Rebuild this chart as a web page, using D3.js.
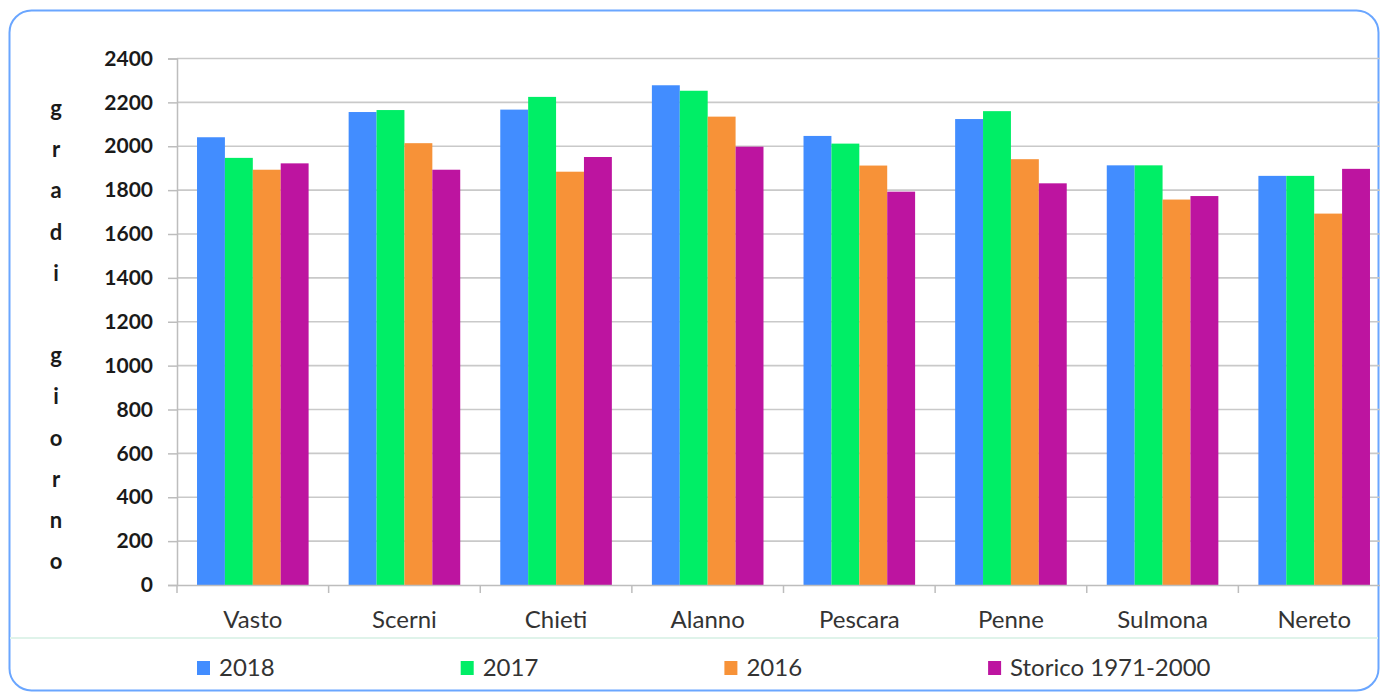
<!DOCTYPE html>
<html><head><meta charset="utf-8">
<script src="https://cdn.jsdelivr.net/npm/d3@7"></script>
<style>body{margin:0;background:#fff;}svg{display:block;}</style>
</head><body>
<svg id="c" width="1380" height="693"></svg>
<script>
const categories = ["Vasto","Scerni","Chieti","Alanno","Pescara","Penne","Sulmona","Nereto"];
const seriesNames = ["2018","2017","2016","Storico 1971-2000"];
const v2018 = [2041,2156,2167,2278,2047,2124,1913,1865];
const v2017 = [1947,2165,2225,2253,2012,2160,1913,1865];
const v2016 = [1893,2014,1884,2135,1912,1941,1757,1693];
const vStorico = [1922,1893,1951,1998,1793,1831,1773,1897];
const yTicks = [0,200,400,600,800,1000,1200,1400,1600,1800,2000,2200,2400];
const axisTitle = ["g","r","a","d","i"," ","g","i","o","r","n","o"];
const colors = ["#428dff","#00ee66","#f79238","#bd14a0"];
const seriesValues = [v2018, v2017, v2016, vStorico];

const svg = d3.select("#c");
const font = "Lato, 'Open Sans', sans-serif";

// frame
svg.append("rect").attr("x",9.5).attr("y",10.5).attr("width",1369).attr("height",680)
  .attr("rx",22).attr("fill","#fff").attr("stroke","#6aa6ff").attr("stroke-width",2);
svg.append("line").attr("x1",10).attr("x2",1378).attr("y1",638).attr("y2",638)
  .attr("stroke","#dff3ea").attr("stroke-width",2);

const pLeft = 177, pRight = 1390, pTop = 58.5, pBottom = 585;
const x = d3.scaleBand().domain(categories).range([pLeft,pRight]).paddingInner(0.264).paddingOuter(0.132);
const x0 = d3.scaleBand().domain(categories).range([pLeft,pRight]);
const xs = d3.scaleBand().domain(seriesNames).range([0,x.bandwidth()]);
const y = d3.scaleLinear().domain([0,2400]).range([pBottom,pTop]);

// gridlines
svg.append("g").selectAll("line").data(yTicks.filter(d=>d>0)).join("line")
  .attr("x1",pLeft).attr("x2",1380).attr("y1",d=>y(d)).attr("y2",d=>y(d))
  .attr("stroke","#c9c9c9").attr("stroke-width",1.6);

// bars
const g = svg.append("g");
seriesValues.forEach((vals,si)=>{
  g.selectAll(null).data(vals).join("rect")
    .attr("x",(d,i)=>x(categories[i])+xs(seriesNames[si]))
    .attr("y",d=>y(d)).attr("width",xs.bandwidth()).attr("height",d=>pBottom-y(d))
    .attr("fill",colors[si]);
});

// y axis
const ya = svg.append("g").attr("transform",`translate(${pLeft},0)`)
  .call(d3.axisLeft(y).tickValues(yTicks).tickFormat(d3.format("d")).tickSize(9).tickPadding(15));
ya.select(".domain").attr("stroke","#bdbdbd").attr("stroke-width",1.5);
ya.selectAll(".tick line").attr("stroke","#bdbdbd").attr("stroke-width",1.5);
ya.selectAll("text").attr("font-family",font).attr("font-weight","bold")
  .attr("font-size",21).attr("fill","#1a1a1a");

// x axis
const xa = svg.append("g").attr("transform",`translate(0,${pBottom})`)
  .call(d3.axisBottom(x0).tickSize(0).tickPadding(24));
xa.select(".domain").attr("stroke","#bdbdbd").attr("stroke-width",1.5);
xa.selectAll("text").attr("font-family",font).attr("font-size",24).attr("fill","#333")
  .attr("dy",null).attr("y",43);
svg.append("g").selectAll("line").data(categories.concat(["_end"])).join("line")
  .attr("x1",(d,i)=>pLeft + i*x0.step()).attr("x2",(d,i)=>pLeft + i*x0.step())
  .attr("y1",pBottom).attr("y2",pBottom+8).attr("stroke","#bdbdbd").attr("stroke-width",1.5);

// axis title (vertical letters)
svg.append("g").selectAll("text").data(axisTitle).join("text")
  .attr("x",56).attr("y",(d,i)=>116 + i*41.2)
  .attr("text-anchor","middle").attr("font-family",font).attr("font-weight","bold")
  .attr("font-size",22).attr("fill","#1a1a1a").text(d=>d);

// legend
const lg = svg.append("g");
seriesNames.forEach((s,i)=>{
  const lx = 197 + i*263.7;
  lg.append("rect").attr("x",lx).attr("y",661).attr("width",13).attr("height",14).attr("fill",colors[i]);
  lg.append("text").attr("x",lx+22).attr("y",676).attr("font-family",font)
    .attr("font-size",24).attr("fill","#333").text(s);
});
</script>
</body></html>
